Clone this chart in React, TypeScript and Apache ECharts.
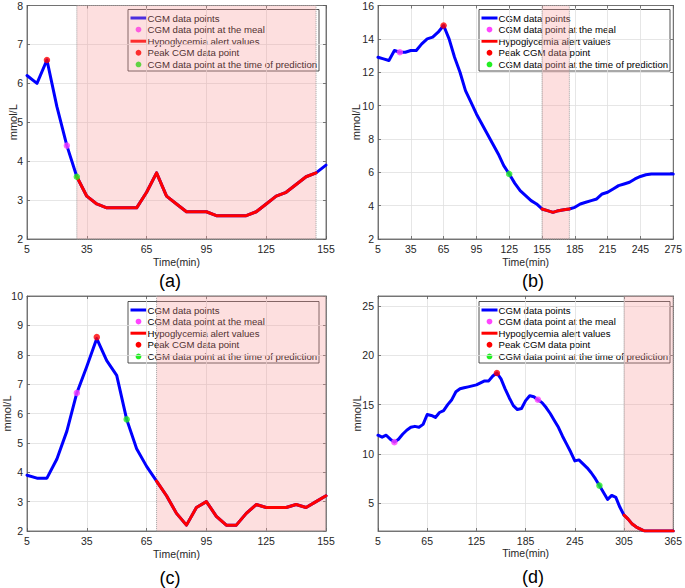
import React, { useEffect, useRef } from 'react';
import * as echarts from 'echarts';

// ---------- Data ----------
const timeA = [5, 10, 15, 20, 25, 30, 35, 40, 45, 50, 55, 60, 65, 70, 75, 80, 85, 90, 95, 100, 105, 110, 115, 120, 125, 130, 135, 140, 145, 150, 155];
const glucoseA = [6.2, 6.0, 6.6, 5.4, 4.4, 3.6, 3.1, 2.9, 2.8, 2.8, 2.8, 2.8, 3.2, 3.7, 3.1, 2.9, 2.7, 2.7, 2.7, 2.6, 2.6, 2.6, 2.6, 2.7, 2.9, 3.1, 3.2, 3.4, 3.6, 3.7, 3.9];
const alertA = [30, 150];
const mealA = [[25, 4.4]];
const peakA = [[15, 6.6]];
const predictionA = [[30, 3.6]];
const xRangeA = [5, 155];
const yRangeA = [2, 8];

const timeB = [5, 10, 15, 20, 25, 30, 35, 40, 45, 50, 55, 60, 65, 70, 75, 80, 85, 90, 95, 100, 105, 110, 115, 120, 125, 130, 135, 140, 145, 150, 155, 160, 165, 170, 175, 180, 185, 190, 195, 200, 205, 210, 215, 220, 225, 230, 235, 240, 245, 250, 255, 260, 265, 270, 275];
const glucoseB = [12.9, 12.8, 12.7, 13.3, 13.2, 13.2, 13.3, 13.3, 13.7, 14.0, 14.1, 14.4, 14.8, 14.0, 12.9, 12.0, 10.9, 10.2, 9.5, 8.9, 8.3, 7.7, 7.1, 6.4, 5.9, 5.35, 4.9, 4.6, 4.3, 4.1, 3.8, 3.7, 3.6, 3.7, 3.75, 3.8, 3.9, 4.1, 4.2, 4.3, 4.4, 4.7, 4.8, 5.0, 5.2, 5.3, 5.4, 5.6, 5.75, 5.85, 5.9, 5.9, 5.9, 5.9, 5.9];
const alertB = [155, 180];
const mealB = [[25, 13.2]];
const peakB = [[65, 14.8]];
const predictionB = [[125, 5.9]];
const xRangeB = [5, 275];
const yRangeB = [2, 16];

const timeC = [5, 10, 15, 20, 25, 30, 35, 40, 45, 50, 55, 60, 65, 70, 75, 80, 85, 90, 95, 100, 105, 110, 115, 120, 125, 130, 135, 140, 145, 150, 155];
const glucoseC = [3.9, 3.8, 3.8, 4.45, 5.4, 6.7, 7.6, 8.55, 7.8, 7.3, 5.8, 4.8, 4.2, 3.7, 3.2, 2.6, 2.2, 2.8, 3.0, 2.5, 2.2, 2.2, 2.6, 2.9, 2.8, 2.8, 2.8, 2.9, 2.8, 3.0, 3.2];
const alertC = [70, 155];
const mealC = [[30, 6.7]];
const peakC = [[40, 8.6]];
const predictionC = [[55, 5.8]];
const xRangeC = [5, 155];
const yRangeC = [2, 10];

const timeD = [5, 10, 15, 20, 25, 30, 35, 40, 45, 50, 55, 60, 65, 70, 75, 80, 85, 90, 95, 100, 105, 110, 115, 120, 125, 130, 135, 140, 145, 150, 155, 160, 165, 170, 175, 180, 185, 190, 195, 200, 205, 210, 215, 220, 225, 230, 235, 240, 245, 250, 255, 260, 265, 270, 275, 280, 285, 290, 295, 300, 305, 310, 315, 320, 325, 330, 335, 340, 345, 350, 355, 360, 365];
const glucoseD = [11.9, 11.7, 11.9, 11.5, 11.2, 11.5, 12.0, 12.4, 12.7, 12.8, 12.7, 13.0, 14.0, 13.9, 13.7, 14.2, 14.4, 15.0, 15.5, 16.3, 16.6, 16.7, 16.8, 16.9, 17.0, 17.2, 17.4, 17.4, 17.9, 18.2, 17.6, 16.6, 15.7, 14.9, 14.5, 14.6, 15.4, 15.9, 15.8, 15.5, 15.2, 14.7, 14.1, 13.4, 12.7, 11.8, 11.0, 10.2, 9.3, 9.4, 9.0, 8.6, 8.1, 7.5, 6.8, 6.1, 5.4, 5.8, 5.6, 4.6, 3.8, 3.4, 2.9, 2.6, 2.4, 2.2, 2.2, 2.2, 2.2, 2.2, 2.2, 2.2, 2.2];
const alertD = [305, 365];
const mealD = [[25, 11.2], [200, 15.5]];
const peakD = [[150, 18.2]];
const predictionD = [[275, 6.8]];
const xRangeD = [5, 365];
const yRangeD = [2.2, 26];

const xStepA = 30, xStepB = 30, xStepC = 30, xStepD = 60;
const yStepA = 1, yStepB = 2, yStepC = 1;

const legendLabels = [
  'CGM data points',
  'CGM data point at the meal',
  'Hypoglycemia alert values',
  'Peak CGM data point',
  'CGM data point at the time of prediction',
];
const captions = ['(a)', '(b)', '(c)', '(d)'];
const xAxisTitle = 'Time(min)';
const yAxisTitle = 'mmol/L';

// ---------- Styling ----------
const FONT = '"Liberation Sans", Arial, Helvetica, sans-serif';
const BLUE = '#0000ff';
const RED = '#ff0000';
const MAGENTA = '#ff44ff';
const GREEN = '#22ee22';
const AXIS_COLOR = '#5a5a5a';
const LABEL_COLOR = '#262626';
const GRID_COLOR = '#e0e0e0';

const PLOT_W = 299;
const PLOT_H = 235;

const panels = [
  { time: timeA, glucose: glucoseA, alert: alertA, meal: mealA, peak: peakA, pred: predictionA, xr: xRangeA, xs: xStepA, yr: yRangeA, ys: yStepA, left: 27, top: 4, cap: [170, 281], yGap: 8.5, xGap: 17.5 },
  { time: timeB, glucose: glucoseB, alert: alertB, meal: mealB, peak: peakB, pred: predictionB, xr: xRangeB, xs: xStepB, yr: yRangeB, ys: yStepB, left: 378, top: 4, cap: [533, 281], yGap: 17, xGap: 17.5 },
  { time: timeC, glucose: glucoseC, alert: alertC, meal: mealC, peak: peakC, pred: predictionC, xr: xRangeC, xs: xStepC, yr: yRangeC, ys: yStepC, left: 27, top: 296, cap: [170, 578], yGap: 15, xGap: 17 },
  { time: timeD, glucose: glucoseD, alert: alertD, meal: mealD, peak: peakD, pred: predictionD, xr: xRangeD, xs: xStepD, yr: yRangeD, ys: null as number | null, left: 378, top: 296, cap: [533, 577], yGap: 16, xGap: 16 },
];

function buildLegend(left: number, top: number) {
  const W = 191;
  const H = 61.5;
  const children: any[] = [
    { type: 'rect', shape: { x: 0, y: 0, width: W, height: H }, style: { fill: '#ffffff', stroke: '#262626', lineWidth: 0.8 } },
  ];
  const kinds = ['line', 'dot', 'line', 'dot', 'dot'];
  const colors = [BLUE, MAGENTA, RED, RED, GREEN];
  legendLabels.forEach((label, i) => {
    const cy = 8.5 + i * 11.6;
    if (kinds[i] === 'line') {
      children.push({ type: 'line', shape: { x1: 2.5, y1: cy, x2: 18.5, y2: cy }, style: { stroke: colors[i], lineWidth: 3 } });
    } else {
      children.push({ type: 'circle', shape: { cx: 10.5, cy, r: 2.9 }, style: { fill: colors[i] } });
    }
    children.push({
      type: 'text',
      x: 19.5,
      y: cy,
      style: { text: label, fontSize: 9.6, fontFamily: FONT, fill: '#000', verticalAlign: 'middle', align: 'left' },
    });
  });
  return { type: 'group', x: left, y: top, children, z: 100 };
}

export default function App() {
  const ref = useRef<HTMLDivElement>(null);

  useEffect(() => {
    if (!ref.current) return;
    const chart = echarts.init(ref.current, undefined, { renderer: 'svg' });

    const grid: any[] = [];
    const xAxis: any[] = [];
    const yAxis: any[] = [];
    const series: any[] = [];
    const graphic: any[] = [];

    const lineStyle = { color: AXIS_COLOR, width: 0.8 };
    const labelStyle = { color: LABEL_COLOR, fontSize: 10.5, fontFamily: FONT };
    const xNameStyle = { color: LABEL_COLOR, fontSize: 10.5, fontFamily: FONT };
    const yNameStyle = { color: LABEL_COLOR, fontSize: 11, fontFamily: FONT };

    panels.forEach((p, i) => {
      grid.push({ left: p.left, top: p.top, width: PLOT_W, height: PLOT_H, show: true, borderColor: AXIS_COLOR, borderWidth: 0.8, backgroundColor: '#ffffff' });

      xAxis.push({
        type: 'value', gridIndex: i, min: p.xr[0], max: p.xr[1], interval: p.xs, position: 'bottom',
        axisLine: { show: true, onZero: false, lineStyle },
        axisTick: { show: true, inside: true, length: 3, lineStyle },
        axisLabel: { ...labelStyle, margin: 4 },
        splitLine: { show: true, lineStyle: { color: GRID_COLOR, width: 0.8 } },
        name: xAxisTitle, nameLocation: 'middle', nameGap: p.xGap, nameTextStyle: xNameStyle,
        nameMoveOverlap: false,
      });
      xAxis.push({
        type: 'value', gridIndex: i, min: p.xr[0], max: p.xr[1], interval: p.xs, position: 'top',
        axisLine: { show: true, onZero: false, lineStyle },
        axisTick: { show: true, inside: true, length: 3, lineStyle },
        axisLabel: { show: false },
        splitLine: { show: false },
      });

      const yBase: any = { type: 'value', gridIndex: i, min: p.yr[0], max: p.yr[1] };
      if (p.ys != null) yBase.interval = p.ys;
      yAxis.push({
        ...yBase, position: 'left',
        axisLine: { show: true, onZero: false, lineStyle },
        axisTick: { show: true, inside: true, length: 3, lineStyle },
        axisLabel: { ...labelStyle, margin: 4, showMinLabel: p.ys != null, showMaxLabel: p.ys != null },
        splitLine: { show: true, lineStyle: { color: GRID_COLOR, width: 0.8 } },
        name: yAxisTitle, nameLocation: 'middle', nameGap: p.yGap, nameTextStyle: yNameStyle,
        nameMoveOverlap: false,
      });
      yAxis.push({
        ...yBase, position: 'right',
        axisLine: { show: true, onZero: false, lineStyle },
        axisTick: { show: true, inside: true, length: 3, lineStyle },
        axisLabel: { show: false },
        splitLine: { show: false },
      });

      const xi = 2 * i;
      const yi = 2 * i;
      const full = p.time.map((t, k) => [t, p.glucose[k]]);
      const alertPts = full.filter((d) => d[0] >= p.alert[0] && d[0] <= p.alert[1]);

      series.push({
        name: legendLabels[0], type: 'line', xAxisIndex: xi, yAxisIndex: yi, data: full,
        showSymbol: false, silent: true, z: 3,
        lineStyle: { color: BLUE, width: 3, join: 'round', cap: 'round' },
        markArea: {
          silent: true,
          itemStyle: { color: 'rgba(248,150,150,0.3)', borderColor: '#a0a0a0', borderType: 'dotted', borderWidth: 1 },
          data: [[{ xAxis: p.alert[0] }, { xAxis: p.alert[1] }]],
        },
      });
      series.push({
        name: legendLabels[2], type: 'line', xAxisIndex: xi, yAxisIndex: yi, data: alertPts,
        showSymbol: false, silent: true, z: 4,
        lineStyle: { color: RED, width: 3, join: 'round', cap: 'round' },
      });
      series.push({
        name: legendLabels[1], type: 'scatter', xAxisIndex: xi, yAxisIndex: yi, data: p.meal,
        symbolSize: 6.5, itemStyle: { color: MAGENTA }, z: 5, silent: true,
      });
      series.push({
        name: legendLabels[3], type: 'scatter', xAxisIndex: xi, yAxisIndex: yi, data: p.peak,
        symbolSize: 6.5, itemStyle: { color: RED }, z: 5, silent: true,
      });
      series.push({
        name: legendLabels[4], type: 'scatter', xAxisIndex: xi, yAxisIndex: yi, data: p.pred,
        symbolSize: 6.5, itemStyle: { color: GREEN }, z: 5, silent: true,
      });

      graphic.push(buildLegend(p.left + PLOT_W - 7 - 191, p.top + 5.5));
      graphic.push({
        type: 'text', x: p.cap[0], y: p.cap[1], z: 100,
        style: { text: captions[i], fontSize: 18, fontFamily: FONT, fill: '#000', align: 'center', verticalAlign: 'middle' },
      });
    });

    chart.setOption({
      animation: false,
      backgroundColor: '#ffffff',
      grid, xAxis, yAxis, series, graphic,
    });

    return () => chart.dispose();
  }, []);

  return (
    <div
      ref={ref}
      style={{ position: 'absolute', left: 0, top: 0, width: 685, height: 588, background: '#fff' }}
    />
  );
}
